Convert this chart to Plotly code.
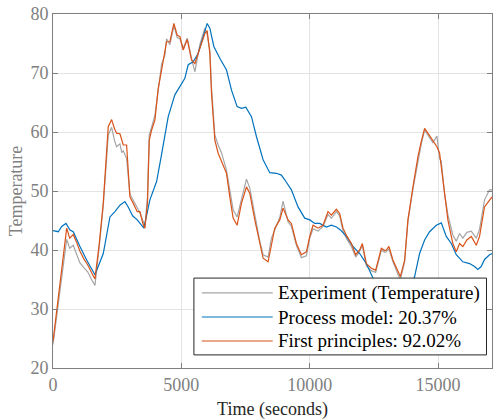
import plotly.graph_objects as go

# ---- data ----
t_fp = [0, 250, 533, 650, 790, 900, 1050, 1200, 1350, 1500, 1634, 1800, 1958, 2152, 2283, 2400,
        2478, 2607, 2680, 2737, 2867, 2996, 3126, 3281, 3385, 3500, 3580, 3680, 3749, 3840, 3969,
        4098, 4230, 4358, 4423, 4553, 4708, 4838, 4942, 5072, 5228, 5396, 5526, 5720, 5915, 6005,
        6110, 6174, 6304, 6433, 6563, 6758, 6887, 7017, 7172, 7341, 7536, 7666, 7860, 8055, 8184,
        8379, 8509, 8638, 8833, 8961, 9156, 9286, 9481, 9676, 9870, 10000, 10129, 10323, 10518,
        10712, 10843, 11039, 11167, 11296, 11451, 11623, 11790, 11945, 12050, 12206, 12400, 12568,
        12790, 12918, 12984, 13085, 13241, 13436, 13530, 13697, 13825, 14020, 14214, 14346, 14475,
        14603, 14798, 14954, 15059, 15124, 15253, 15381, 15576, 15708, 15836, 15965, 16121, 16293,
        16487, 16615, 16809, 17004, 17100]

first_principles = [24.5, 34.0, 43.7, 42.0, 42.6, 41.5, 39.8, 38.5, 37.5, 36.2, 35.1, 41.0, 48.0,
                    60.9, 62.1, 60.5, 59.8, 59.7, 58.5, 57.8, 57.8, 49.0, 47.9, 46.5, 46.5, 44.5,
                    43.7, 48.0, 58.6, 60.3, 62.0, 67.4, 70.5, 73.3, 75.3, 75.3, 78.4, 76.4, 76.2,
                    73.9, 75.7, 72.2, 71.6, 74.2, 76.7, 77.2, 73.3, 66.6, 58.6, 56.4, 55.0, 53.0,
                    49.0, 45.4, 44.2, 47.9, 50.7, 49.6, 45.1, 41.1, 38.6, 38.0, 41.1, 43.7, 45.1,
                    47.1, 45.1, 44.5, 41.1, 39.2, 39.7, 42.3, 44.2, 43.7, 44.2, 46.5, 45.9, 46.9,
                    46.2, 43.7, 42.3, 41.1, 39.2, 40.0, 41.1, 37.7, 36.9, 36.6, 40.3, 39.9, 40.0,
                    40.6, 38.3, 36.3, 35.5, 38.3, 45.1, 50.7, 55.8, 58.4, 60.6, 59.8, 58.6, 57.5,
                    56.4, 54.1, 49.0, 45.1, 41.1, 39.7, 41.1, 40.6, 41.7, 42.3, 40.8, 42.3, 47.3,
                    48.5, 49.0]

experiment = [24.0, 32.5, 41.8, 40.3, 40.8, 39.5, 37.8, 37.0, 36.3, 35.0, 34.0, 40.5, 47.5,
              59.5, 60.8, 58.5, 57.5, 58.0, 56.5, 56.8, 55.5, 49.5, 48.5, 47.2, 46.3, 45.0,
              44.0, 49.0, 59.5, 60.8, 62.8, 67.0, 71.5, 73.0, 75.8, 74.8, 78.0, 76.0, 75.8,
              74.2, 75.9, 72.5, 70.2, 74.8, 77.6, 76.5, 73.8, 67.5, 59.5, 57.8, 56.5, 53.5,
              50.2, 46.8, 45.6, 48.5, 52.0, 50.5, 46.0, 41.5, 39.2, 38.8, 42.0, 43.5, 45.5,
              48.3, 44.8, 44.0, 40.8, 38.7, 39.0, 42.0, 43.6, 43.2, 44.0, 46.0, 45.4, 46.5,
              45.8, 43.2, 41.8, 40.6, 38.8, 39.8, 40.8, 37.3, 36.5, 36.2, 40.0, 39.6, 39.7,
              40.2, 38.0, 35.9, 35.0, 38.0, 44.8, 50.3, 55.0, 58.0, 60.3, 59.5, 58.2, 59.3,
              55.5, 55.0, 49.5, 46.0, 42.5, 41.5, 42.8, 42.0, 43.0, 43.2, 42.0, 43.5, 48.5,
              50.2, 50.2]

t_pm = [0, 206, 338, 506, 661, 790, 1050, 1311, 1634, 1958, 2218, 2412, 2607, 2801, 2930, 3101,
        3281, 3541, 3774, 4035, 4200, 4358, 4488, 4747, 4942, 5136, 5266, 5459, 5654, 5849, 6005,
        6110, 6265, 6498, 6758, 6953, 7172, 7341, 7510, 7731, 7926, 8184, 8443, 8703, 8896, 9027,
        9286, 9545, 9805, 10000, 10194, 10389, 10649, 10843, 11039, 11195, 11428, 11685, 11945,
        12206, 12400, 12465, 12900, 13400, 13800, 14086, 14280, 14475, 14669, 14930, 15124, 15319,
        15514, 15708, 15965, 16225, 16420, 16549, 16679, 16809, 17004, 17100]

process_model = [43.3, 43.1, 44.0, 44.5, 43.4, 43.1, 40.6, 38.3, 35.8, 39.4, 45.6, 46.5, 47.6,
                 48.2, 47.3, 45.8, 45.1, 43.7, 48.5, 51.6, 55.5, 59.5, 62.6, 66.3, 67.7, 69.1,
                 71.4, 71.9, 73.3, 76.4, 78.4, 77.6, 74.5, 72.5, 70.5, 67.1, 64.3, 64.0, 64.2,
                 62.6, 59.2, 55.3, 53.1, 53.0, 52.7, 51.9, 50.2, 47.3, 45.4, 45.1, 44.5, 44.5,
                 43.9, 44.2, 43.9, 43.4, 42.3, 40.6, 39.4, 37.7, 35.8, 35.2, 32.5, 31.5, 32.5,
                 35.5, 39.4, 41.7, 43.1, 44.2, 44.6, 42.3, 41.1, 39.2, 38.0, 37.7, 37.2, 36.7,
                 37.2, 38.4, 39.2, 39.4]

x_ticks = [0, 5000, 10000, 15000]
y_ticks = [20, 30, 40, 50, 60, 70, 80]

names = ["Experiment (Temperature)", "Process model: 20.37%", "First principles: 92.02%"]
colors = ["#A5A5A5", "#0072BD", "#D95319"]

FONT = "Liberation Serif, Times New Roman, serif"
AX = "#7F7F7F"
TXT = "#808080"

fig = go.Figure()
fig.add_trace(go.Scatter(x=t_fp, y=experiment, mode="lines", name=names[0],
                         line=dict(color=colors[0], width=1.2), showlegend=False))
fig.add_trace(go.Scatter(x=t_pm, y=process_model, mode="lines", name=names[1],
                         line=dict(color=colors[1], width=1.2), showlegend=False))
fig.add_trace(go.Scatter(x=t_fp, y=first_principles, mode="lines", name=names[2],
                         line=dict(color=colors[2], width=1.2), showlegend=False))

# manual legend (box drawn over the data, like the reference)
lx0, lx1, ly0, ly1 = 0.321, 0.9875, 0.037, 0.254
fig.add_shape(type="rect", xref="paper", yref="paper", x0=lx0, x1=lx1, y0=ly0, y1=ly1,
              fillcolor="white", line=dict(color="#262626", width=1), layer="above")
rows = [0.212, 0.144, 0.0763]
for i in range(3):
    fig.add_shape(type="line", xref="paper", yref="paper", x0=0.339, x1=0.5005,
                  y0=rows[i], y1=rows[i], line=dict(color=colors[i], width=1.2), layer="above")
    fig.add_annotation(xref="paper", yref="paper", x=0.5075, y=rows[i], text=names[i],
                       showarrow=False, xanchor="left", yanchor="middle",
                       font=dict(family=FONT, size=19, color="#000000"))

axis_common = dict(showline=True, linecolor=AX, linewidth=1, mirror="ticks",
                   ticks="inside", ticklen=5, tickcolor=AX, showgrid=True,
                   gridcolor="#E3E3E3", gridwidth=1, zeroline=False, automargin=False,
                   tickfont=dict(family=FONT, size=18, color=TXT))

fig.update_xaxes(range=[0, 17100], tickvals=x_ticks, ticktext=[str(v) for v in x_ticks],
                 title=dict(text="Time (seconds)", standoff=10,
                            font=dict(family=FONT, size=18, color="#262626")),
                 **axis_common)
fig.update_yaxes(range=[20, 80], tickvals=y_ticks, ticktext=[str(v) for v in y_ticks],
                 title=dict(text="Temperature", standoff=3,
                            font=dict(family=FONT, size=18, color=TXT)),
                 **axis_common)

fig.update_layout(width=494, height=420, margin=dict(l=53, r=2, t=14, b=52),
                  plot_bgcolor="white", paper_bgcolor="white", showlegend=False)

fig.write_html("out.html", config={"displayModeBar": False},
               post_script="document.body.style.margin='0';document.body.style.overflow='hidden';")
